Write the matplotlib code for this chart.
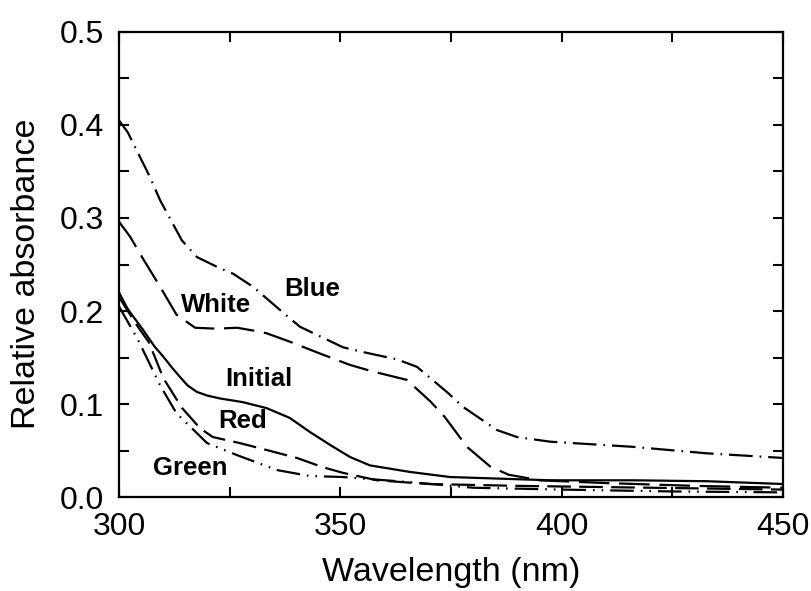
import matplotlib
matplotlib.use("Agg")
import matplotlib.pyplot as plt
from matplotlib.ticker import MultipleLocator, FormatStrFormatter

plt.rcParams['font.family'] = ['Liberation Sans', 'DejaVu Sans']
plt.rcParams['lines.scale_dashes'] = False

# Absorbance spectra (wavelength in nm, relative absorbance)
blue_wl = [300, 302, 307, 309.3, 314.2, 317.6, 322.8, 325.8, 330.3, 336.4, 340.9, 350.6,
           355, 362.8, 367.3, 374.3, 377.7, 385.4, 389.9, 397.4, 416, 432.8, 450]
blue_abs = [0.405, 0.392, 0.344, 0.319, 0.276, 0.258, 0.246, 0.240, 0.226, 0.201, 0.183, 0.161,
            0.156, 0.148, 0.140, 0.112, 0.097, 0.072, 0.0645, 0.0595, 0.054, 0.047, 0.042]

white_wl = [300, 302.5, 305.2, 309.3, 313, 317.2, 322, 326.7, 330.3, 333.4, 338.6, 345,
            352.2, 357.3, 365, 370.3, 373.6, 378.6, 383.8, 388, 395, 410, 430, 450]
white_abs = [0.296, 0.280, 0.258, 0.226, 0.196, 0.182, 0.181, 0.182, 0.179, 0.176, 0.167, 0.155,
             0.142, 0.135, 0.126, 0.103, 0.086, 0.054, 0.033, 0.024, 0.018, 0.015, 0.012, 0.010]

initial_wl = [300, 302, 305.4, 308, 310, 312, 313.8, 315.5, 317.6, 320, 322.8, 328, 333.4,
              338.6, 343.1, 347.7, 352.2, 356.7, 365.7, 374.8, 397.4, 416, 432.8, 450]
initial_abs = [0.220, 0.202, 0.180, 0.162, 0.151, 0.139, 0.129, 0.120, 0.113, 0.109, 0.106,
               0.102, 0.0955, 0.085, 0.070, 0.056, 0.043, 0.034, 0.027, 0.0215, 0.018, 0.018,
               0.017, 0.014]

red_wl = [300, 304, 306.8, 310, 314.2, 318.3, 321.2, 327.3, 333.4, 340.2, 346.1, 350.6,
          358.3, 370, 390, 420, 450]
red_abs = [0.215, 0.185, 0.166, 0.128, 0.096, 0.074, 0.0645, 0.058, 0.0505, 0.042, 0.032, 0.026,
           0.018, 0.014, 0.012, 0.010, 0.008]

green_wl = [300, 304.3, 309.3, 313, 319.9, 326.7, 335.7, 343.1, 350.6, 365.7, 380, 400, 425, 450]
green_abs = [0.205, 0.169, 0.120, 0.090, 0.058, 0.045, 0.029, 0.0226, 0.0215, 0.016, 0.010,
             0.008, 0.006, 0.005]

curve_names = ["Blue", "White", "Initial", "Red", "Green"]
label_x = [343.7, 321.9, 331.7, 327.9, 316.0]
label_y = [0.224, 0.206, 0.127, 0.082, 0.031]

fig = plt.figure(figsize=(8.11, 5.91), dpi=100)
ax = fig.add_axes([0.1467, 0.159, 0.8188, 0.7869])

lw = 1.6
ax.plot(blue_wl, blue_abs, color='black', lw=lw, linestyle=(0, (17, 5, 1.2, 5)))
ax.plot(white_wl, white_abs, color='black', lw=lw, linestyle=(0, (22, 7)))
ax.plot(initial_wl, initial_abs, color='black', lw=lw, linestyle='-')
ax.plot(red_wl, red_abs, color='black', lw=lw, linestyle=(0, (17, 6)))
ax.plot(green_wl, green_abs, color='black', lw=lw, linestyle=(0, (17, 5, 1.2, 5, 1.2, 5)))

for name, lx, ly in zip(curve_names, label_x, label_y):
    ax.text(lx, ly, name, fontsize=18.5, fontweight='bold', ha='center', va='center')

ax.set_xlim(300, 450)
ax.set_ylim(0, 0.5)
ax.xaxis.set_major_locator(MultipleLocator(50))
ax.xaxis.set_minor_locator(MultipleLocator(25))
ax.yaxis.set_major_locator(MultipleLocator(0.1))
ax.yaxis.set_minor_locator(MultipleLocator(0.05))
ax.yaxis.set_major_formatter(FormatStrFormatter('%.1f'))

ax.tick_params(which='both', direction='in', top=True, right=True,
               length=7, width=1.5, labelsize=23)
ax.tick_params(axis='y', which='major', pad=11)
ax.tick_params(axis='x', which='major', pad=11)
for s in ax.spines.values():
    s.set_linewidth(1.6)

ax.set_xlabel("Wavelength (nm)", fontsize=24.5)
ax.set_ylabel("Relative absorbance", fontsize=24.5)
ax.xaxis.set_label_coords(0.5, -0.13)
ax.yaxis.set_label_coords(-0.116, 0.48)

fig.savefig("out.png", dpi=100)
